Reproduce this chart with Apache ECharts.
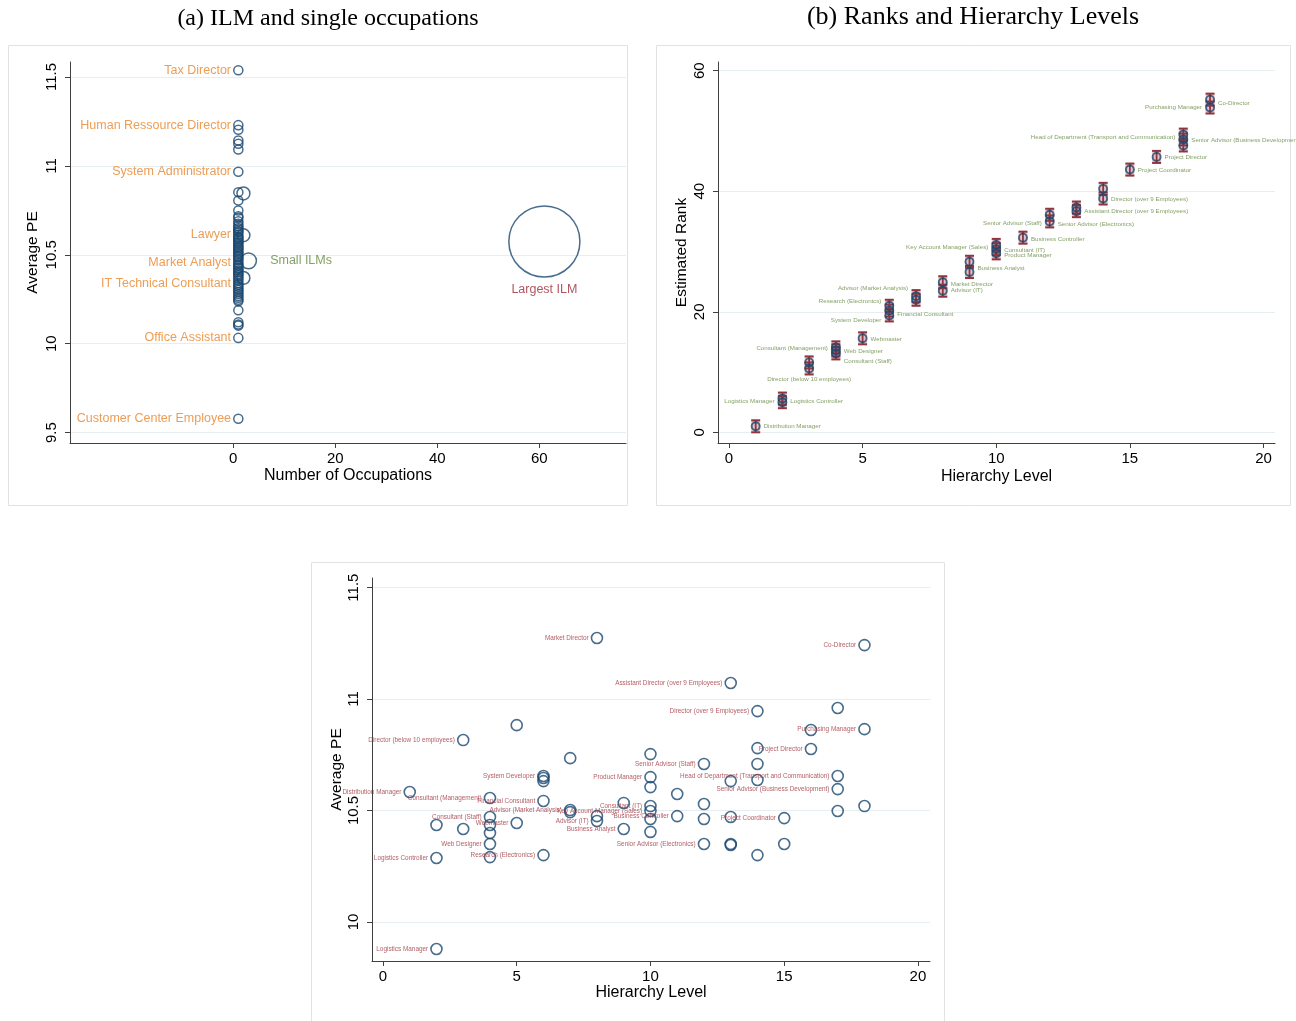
<!DOCTYPE html>
<html><head><meta charset="utf-8">
<script src="https://cdn.jsdelivr.net/npm/echarts@6/dist/echarts.min.js"></script>
<style>html,body{margin:0;padding:0;background:#fff}#c{width:1296px;height:1021px}</style>
</head><body><div id="c"></div>
<script>
// ---------- Panel (a): ILM and single occupations ----------
const aCount = [1,1,1,1,1,1,1,1,2,1,1,1,1,
  1,1,1,1,1,1,1,1,1,1,1,1,1,1,1,1,1,1,1,1,1,1,1,1,1,1,1,1,1,1,1,1,1,1,1,1,1,1,1,1,1,1,1,1,1,1,1,1,
  2,3,2,
  1,1,1,1,1,1,
  61];
const aPE = [11.538,11.229,11.203,11.143,11.124,11.092,10.967,10.852,10.845,10.805,10.749,10.717,10.708,
  10.688,10.675,10.662,10.651,10.643,10.634,10.627,10.614,10.603,10.596,10.588,10.579,10.571,10.563,10.552,10.544,10.537,10.528,10.519,10.511,10.503,10.494,10.487,10.478,10.469,10.456,10.447,10.439,10.428,10.421,10.412,10.403,10.394,10.386,10.377,10.366,10.355,10.34,10.331,10.322,10.311,10.302,10.291,10.279,10.268,10.259,10.248,10.239,
  10.61,10.466,10.37,
  10.188,10.121,10.108,10.102,10.033,9.578,
  10.575];
const aNames = ['Tax Director','Human Ressource Director','','','','','System Administrator','','','','','','',
  '','','','','','','','Lawyer','','','','','','','','','','','','','','','','','','Market Analyst','','','','','','','','','','','','IT Technical Consultant','','','','','','','','','','',
  '','Small ILMs','',
  '','','','','Office Assistant','Customer Center Employee',
  'Largest ILM'];
const aXTicks = [0,20,40,60];
const aYTicks = [9.5,10,10.5,11,11.5];

// ---------- Panel (b): Ranks and Hierarchy Levels ----------
const bLevel = [1, 2,2, 3,3, 4,4,4, 5, 6,6,6, 7,7, 8,8, 9,9, 10,10,10, 11, 12,12, 13,13, 14,14, 15, 16, 17,17,17, 18,18];
const bRank  = [1.0, 5.6,5.0, 11.6,10.6, 14.1,13.6,13.1, 15.6, 21.0,20.2,19.4, 22.6,22.0, 24.9,23.5, 28.3,26.6, 31.1,30.4,29.7, 32.3, 36.1,35.0, 37.3,36.7, 40.4,38.8, 43.6, 45.7, 49.4,48.6,47.6, 55.2,53.9];
const bLow   = [0.0, 4.6,4.0, 10.6,9.6, 13.1,12.6,12.1, 14.6, 20.0,19.2,18.4, 21.6,21.0, 23.9,22.5, 27.3,25.6, 30.1,29.4,28.7, 31.3, 35.1,34.0, 36.3,35.7, 39.4,37.8, 42.6, 44.7, 48.4,47.6,46.6, 54.2,52.9];
const bHigh  = [2.0, 6.6,6.0, 12.6,11.6, 15.1,14.6,14.1, 16.6, 22.0,21.2,20.4, 23.6,23.0, 25.9,24.5, 29.3,27.6, 32.1,31.4,30.7, 33.3, 37.1,36.0, 38.3,37.7, 41.4,39.8, 44.6, 46.7, 50.4,49.6,48.6, 56.2,54.9];
const bNames = ['Distribution Manager','Logistics Manager','Logistics Controller','','Director (below 10 employees)',
  'Consultant (Management)','Web Designer','Consultant (Staff)','Webmaster',
  'Research (Electronics)','Financial Consultant','System Developer','Advisor (Market Analysis)','',
  'Market Director','Advisor (IT)','','Business Analyst','Key Account Manager (Sales)','Consultant (IT)','Product Manager',
  'Business Controller','Senior Advisor (Staff)','Senior Advisor (Electronics)','','Assistant Director (over 9 Employees)',
  '','Director (over 9 Employees)','Project Coordinator','Project Director',
  'Head of Department (Transport and Communication)','Senior Advisor (Business Development)','','Co-Director','Purchasing Manager'];
const bXTicks = [0,5,10,15,20];
const bYTicks = [0,20,40,60];

// ---------- Panel (c): Average PE by hierarchy level ----------
const cLevel = [1, 2,2,2, 3,3, 4,4,4,4,4,4, 5,5, 6,6,6,6,6, 7,7,7, 8,8,8, 9,9, 10,10,10,10,10,10,10, 11,11, 12,12,12,12, 13,13,13,13,13, 14,14,14,14,14, 15,15, 16,16, 17,17,17,17, 18,18,18];
const cPE = [10.583, 9.879,10.287,10.435, 10.816,10.417, 10.556,10.471,10.435,10.399,10.35,10.291, 10.883,10.444,
  10.655,10.646,10.632,10.543,10.3, 10.735,10.502,10.493, 11.274,10.475,10.453, 10.534,10.417,
  10.753,10.65,10.605,10.52,10.498,10.462,10.404, 10.574,10.475, 10.709,10.529,10.462,10.35,
  11.072,10.632,10.471,10.35,10.345, 10.946,10.78,10.709,10.637,10.3, 10.466,10.35, 10.861,10.776,
  10.96,10.655,10.596,10.498, 11.242,10.865,10.52];
const cNames = ['Distribution Manager','Logistics Manager','Logistics Controller','','Director (below 10 employees)','',
  'Consultant (Management)','Consultant (Staff)','','','Web Designer','','','Webmaster',
  'System Developer','','','Financial Consultant','Research (Electronics)','','Advisor (Market Analysis)','',
  'Market Director','','Advisor (IT)','','Business Analyst',
  '','Product Manager','','Consultant (IT)','Key Account Manager (Sales)','','','','Business Controller',
  'Senior Advisor (Staff)','','','Senior Advisor (Electronics)',
  'Assistant Director (over 9 Employees)','','','','', 'Director (over 9 Employees)','','','','',
  'Project Coordinator','','','Project Director',
  '','Head of Department (Transport and Communication)','Senior Advisor (Business Development)','',
  'Co-Director','Purchasing Manager',''];
const cXTicks = [0,5,10,15,20];
const cYTicks = [10,10.5,11,11.5];

// ---------- styles ----------
const NAVY = '#1a476f', RED = '#90353b', GREEN = '#64883f', ORANGE = '#e8842a', DKRED = '#a0353f';
const FONT = '"Liberation Sans", Arial, Helvetica, sans-serif';
const SERIF = '"Liberation Serif", "Times New Roman", serif';
const AXC = '#404040', GRIDC = '#e6eef1';

// label placement (style) maps
const aLabelStyle = {
  'Small ILMs': {position:'right', distance:13, color:GREEN},
  'Largest ILM': {position:'bottom', distance:5, color:'#a0283a'}
};
const bLabelStyle = {
  'Distribution Manager':['right',0,0],'Logistics Manager':['left',0,2.5],'Logistics Controller':['right',0,-1],
  'Director (below 10 employees)':['bottom',0,0],'Consultant (Management)':['left',0,1],'Web Designer':['right',0,1],
  'Consultant (Staff)':['right',0,8],'Webmaster':['right',0,1],'Research (Electronics)':['left',0,-4],
  'Financial Consultant':['right',0,4],'System Developer':['left',0,5],'Advisor (Market Analysis)':['left',0,-8],
  'Market Director':['right',0,2],'Advisor (IT)':['right',0,0],'Business Analyst':['right',0,-4],
  'Key Account Manager (Sales)':['left',0,2],'Consultant (IT)':['right',0,1],'Product Manager':['right',0,2],
  'Business Controller':['right',0,2],'Senior Advisor (Staff)':['left',0,9],'Senior Advisor (Electronics)':['right',0,3],
  'Assistant Director (over 9 Employees)':['right',0,0],'Director (over 9 Employees)':['right',0,1],
  'Project Coordinator':['right',0,1],'Project Director':['right',0,0],
  'Head of Department (Transport and Communication)':['left',0,3],'Senior Advisor (Business Development)':['right',0,1],
  'Co-Director':['right',0,4],'Purchasing Manager':['left',0,0]
};

// ---------- build data ----------
const aData = aCount.map((c,i)=>{
  const d = {value:[c, aPE[i]], name:aNames[i]};
  const st = aLabelStyle[aNames[i]];
  d.label = st ? {show:true, position:st.position, distance:st.distance, color:st.color, fontSize:12.5, fontFamily:FONT, formatter:'{b}'}
               : {show: aNames[i] !== '', position:'left', distance:2, color:ORANGE, fontSize:12.5, fontFamily:FONT, formatter:'{b}'};
  return d;
});
const bPoints = bLevel.map((l,i)=>{
  const d = {value:[l, bRank[i]], name:bNames[i]};
  const st = bLabelStyle[bNames[i]];
  if (st) d.label = {show:true, position:st[0], offset:[st[1],st[2]]};
  return d;
});
const bBars = bLevel.map((l,i)=>[l, bRank[i], bLow[i], bHigh[i]]);
const cData = cLevel.map((l,i)=>({value:[l, cPE[i]], name:cNames[i]}));

function yAxisCfg(gi, min, max, ticks, name, gap){
  return {gridIndex:gi, type:'value', min:min, max:max,
    axisLine:{show:true, onZero:false, lineStyle:{color:AXC, width:1}},
    axisTick:{show:true, length:5, customValues:ticks, lineStyle:{color:AXC}},
    axisLabel:{customValues:ticks, rotate:90, margin:11, fontSize:15, color:'#000', fontFamily:FONT},
    splitLine:{show:true, lineStyle:{color:GRIDC, width:1}},
    name:name, nameLocation:'middle', nameGap:gap, nameTextStyle:{fontSize:15.5, color:'#000', fontFamily:FONT}};
}
function xAxisCfg(gi, min, max, ticks, name, gap){
  return {gridIndex:gi, type:'value', min:min, max:max,
    axisLine:{show:true, onZero:false, lineStyle:{color:AXC, width:1}},
    axisTick:{show:true, length:5, customValues:ticks, lineStyle:{color:AXC}},
    axisLabel:{customValues:ticks, margin:8, fontSize:15, color:'#000', fontFamily:FONT},
    splitLine:{show:false},
    name:name, nameLocation:'middle', nameGap:gap, nameTextStyle:{fontSize:16, color:'#000', fontFamily:FONT}};
}

const chart = echarts.init(document.getElementById('c'), null, {width:1296, height:1021});
chart.setOption({
  backgroundColor:'#fff',
  animation:false,
  graphic:[
    {type:'rect', shape:{x:8.5, y:45.5, width:619, height:460}, style:{fill:'none', stroke:'#e2e2e2', lineWidth:1}, z:-10},
    {type:'rect', shape:{x:656.5, y:45.5, width:634, height:460}, style:{fill:'none', stroke:'#e2e2e2', lineWidth:1}, z:-10},
    {type:'rect', shape:{x:311.5, y:562.5, width:633, height:470}, style:{fill:'none', stroke:'#e2e2e2', lineWidth:1}, z:-10},
    {type:'text', x:328, y:19, style:{text:'(a) ILM and single occupations', font:'24px '+SERIF, fill:'#000', textAlign:'center', textVerticalAlign:'middle'}},
    {type:'text', x:973, y:17, style:{text:'(b) Ranks and Hierarchy Levels', font:'26px '+SERIF, fill:'#000', textAlign:'center', textVerticalAlign:'middle'}}
  ],
  grid:[
    {left:70, top:62, width:556, height:381},
    {left:718, top:62, width:557, height:381},
    {left:372, top:578, width:558, height:383}
  ],
  xAxis:[
    xAxisCfg(0, -32, 77, aXTicks, 'Number of Occupations', 25),
    xAxisCfg(1, -0.41, 20.43, bXTicks, 'Hierarchy Level', 26),
    xAxisCfg(2, -0.41, 20.45, cXTicks, 'Hierarchy Level', 24)
  ],
  yAxis:[
    yAxisCfg(0, 9.442, 11.584, aYTicks, 'Average PE', 29),
    yAxisCfg(1, -1.77, 61.45, bYTicks, 'Estimated Rank', 28),
    yAxisCfg(2, 9.825, 11.543, cYTicks, 'Average PE', 27)
  ],
  series:[
    {type:'scatter', xAxisIndex:0, yAxisIndex:0, data:aData,
      symbol:'circle', symbolSize:(v)=>9.1*Math.sqrt(v[0]),
      itemStyle:{color:'rgba(0,0,0,0)', borderColor:NAVY, borderWidth:1.5},
      labelLayout:{hideOverlap:false}},
    {type:'custom', xAxisIndex:1, yAxisIndex:1, data:bBars, z:2,
      renderItem:function(params, api){
        const pl = api.coord([api.value(0), api.value(2)]);
        const ph = api.coord([api.value(0), api.value(3)]);
        const hw = 4.5;
        return {type:'group', children:[
          {type:'rect', shape:{x:ph[0]-hw, y:ph[1], width:2*hw, height:pl[1]-ph[1]}, style:{fill:'rgba(165,50,65,0.3)'}},
          {type:'line', shape:{x1:pl[0], y1:pl[1], x2:ph[0], y2:ph[1]}, style:{stroke:RED, lineWidth:1.8}},
          {type:'line', shape:{x1:ph[0]-hw, y1:ph[1], x2:ph[0]+hw, y2:ph[1]}, style:{stroke:RED, lineWidth:2}},
          {type:'line', shape:{x1:pl[0]-hw, y1:pl[1], x2:pl[0]+hw, y2:pl[1]}, style:{stroke:RED, lineWidth:2}}
        ]};
      }},
    {type:'scatter', xAxisIndex:1, yAxisIndex:1, data:bPoints, z:5,
      symbol:'circle', symbolSize:8,
      itemStyle:{color:'rgba(0,0,0,0)', borderColor:NAVY, borderWidth:1.9},
      label:{show:false, formatter:'{b}', color:GREEN, fontSize:6.2, fontFamily:FONT, distance:3}},
    {type:'scatter', xAxisIndex:2, yAxisIndex:2, data:cData,
      symbol:'circle', symbolSize:11,
      itemStyle:{color:'rgba(0,0,0,0)', borderColor:NAVY, borderWidth:1.6},
      label:{show:true, position:'left', distance:2, formatter:'{b}', color:DKRED, fontSize:6.4, fontFamily:FONT},
      labelLayout:{hideOverlap:false}}
  ]
});
</script></body></html>
